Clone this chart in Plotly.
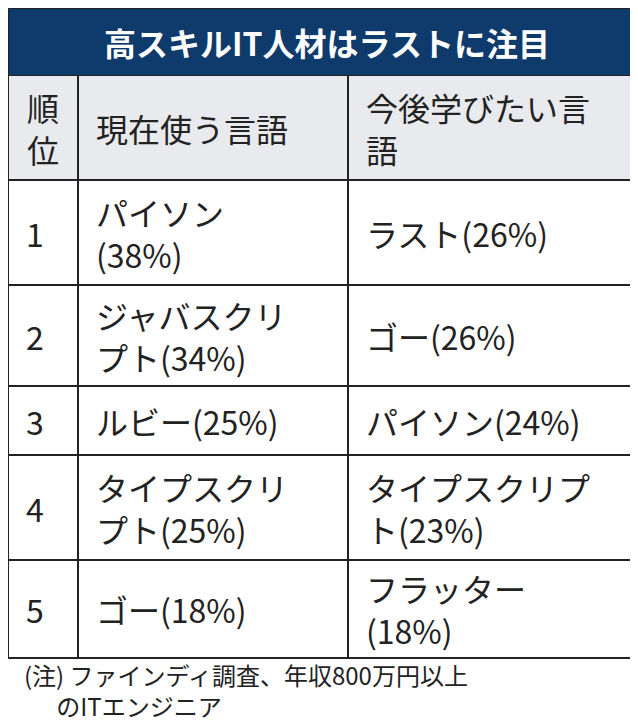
import plotly.graph_objects as go

title = "高スキルIT人材はラストに注目"
headers = ["順<br>位", "現在使う言語", "今後学びたい言<br>語"]
ranks = ["1", "2", "3", "4", "5"]
current = ["パイソン<br>(38%)", "ジャバスクリ<br>プト(34%)", "ルビー(25%)", "タイプスクリ<br>プト(25%)", "ゴー(18%)"]
future = ["ラスト(26%)", "ゴー(26%)", "パイソン(24%)", "タイプスクリプ<br>ト(23%)", "フラッター<br>(18%)"]
note = "(注) ファインディ調査、年収800万円以上<br>      のITエンジニア"

W, H = 638, 723
cols = [0, 70, 340, 636]
rows = [68, 172, 277, 378, 447, 552, 650]
FONT = "Noto Sans CJK JP"
C = "#222222"

fig = go.Figure()
shapes = []
ann = []
shapes.append(dict(type="rect", x0=0, x1=W, y0=0, y1=68, fillcolor="#0e3a6c", line=dict(color="#222", width=2)))
ann.append(dict(x=W/2, y=34, text="<b>"+title+"</b>", showarrow=False, font=dict(family=FONT, size=32, color="white")))
shapes.append(dict(type="rect", x0=0, x1=cols[-1], y0=rows[0], y1=rows[1], fillcolor="#e9eaed", line=dict(width=0)))
for y in rows[1:]:
    shapes.append(dict(type="line", x0=0, x1=cols[-1], y0=y, y1=y, line=dict(color=C, width=2)))
for x in cols:
    shapes.append(dict(type="line", x0=x, x1=x, y0=rows[0], y1=rows[-1], line=dict(color=C, width=2)))

def cell(x, yc, text, size=32):
    ann.append(dict(x=x, y=yc, text=text, showarrow=False, xanchor="left", align="left",
                    font=dict(family=FONT, size=size, color=C)))

yc = (rows[0] + rows[1]) / 2
ann.append(dict(x=35, y=yc, text=headers[0], showarrow=False, font=dict(family=FONT, size=32, color=C)))
cell(86, yc, headers[1])
cell(356, yc, headers[2])
for i in range(5):
    yc = (rows[i+1] + rows[i+2]) / 2
    cell(16, yc, ranks[i])
    cell(86, yc, current[i])
    cell(356, yc, future[i])
ann.append(dict(x=14, y=682, text=note, showarrow=False, xanchor="left", align="left",
                font=dict(family=FONT, size=24, color=C)))

fig.update_layout(width=W, height=H, margin=dict(l=0, r=0, t=0, b=0),
                  paper_bgcolor="white", plot_bgcolor="white",
                  xaxis=dict(range=[0, W], visible=False, fixedrange=True),
                  yaxis=dict(range=[H, 0], visible=False, fixedrange=True),
                  shapes=shapes, annotations=ann, showlegend=False)
fig.write_html("out.html")
